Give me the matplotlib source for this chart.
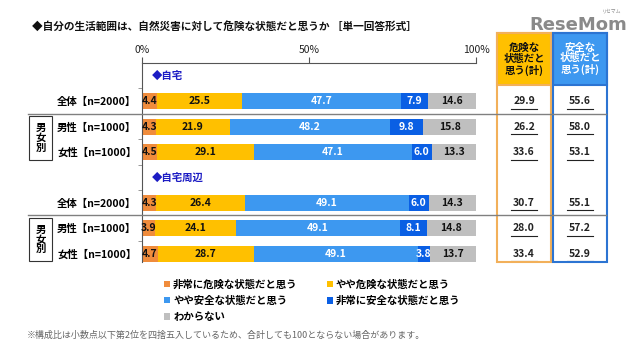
import matplotlib
matplotlib.use('Agg')
import matplotlib.pyplot as plt
from matplotlib.patches import Patch, Rectangle
from matplotlib.lines import Line2D
import matplotlib.transforms as mtransforms

plt.rcParams['font.family'] = ['Noto Sans CJK JP', 'DejaVu Sans']

# データ
categories = ['全体【n=2000】', '男性【n=1000】', '女性【n=1000】',
              '全体【n=2000】', '男性【n=1000】', '女性【n=1000】']
very_danger = [4.4, 4.3, 4.5, 4.3, 3.9, 4.7]
some_danger = [25.5, 21.9, 29.1, 26.4, 24.1, 28.7]
some_safe = [47.7, 48.2, 47.1, 49.1, 49.1, 49.1]
very_safe = [7.9, 9.8, 6.0, 6.0, 8.1, 3.8]
unknown = [14.6, 15.8, 13.3, 14.3, 14.8, 13.7]
danger_total = [29.9, 26.2, 33.6, 30.7, 28.0, 33.4]
safe_total = [55.6, 58.0, 53.1, 55.1, 57.2, 52.9]
series_names = ['非常に危険な状態だと思う', 'やや危険な状態だと思う',
                'やや安全な状態だと思う', '非常に安全な状態だと思う', 'わからない']
group_names = ['◆自宅', '◆自宅周辺']

colors = ['#F08C3C', '#FFC000', '#3D98F0', '#0A5FE4', '#BFBFBF']
text_colors = ['#111111', '#111111', 'white', 'white', '#111111']

W, H = 640, 356
fig = plt.figure(figsize=(W / 100, H / 100), dpi=100)

# 帯グラフ用の軸（ピクセル位置から配置）
x0, x1, y0, y1 = 142, 476, 63, 262
ax = fig.add_axes([x0 / W, 1 - y1 / H, (x1 - x0) / W, (y1 - y0) / H])

rows = [1.5, 2.5, 3.5, 5.5, 6.5, 7.5]
group_rows = [0.5, 4.5]
series = [very_danger, some_danger, some_safe, very_safe, unknown]

left = [0.0] * len(rows)
for vals, c, tc in zip(series, colors, text_colors):
    ax.barh(rows, vals, left=left, height=0.63, color=c, edgecolor='none')
    for r, l, v in zip(rows, left, vals):
        ax.text(l + v / 2, r, f'{v:.1f}', ha='center', va='center',
                fontsize=7.5, color=tc, fontweight='bold')
    left = [l + v for l, v in zip(left, vals)]

for g, r in zip(group_names, group_rows):
    ax.text(3, r, g, ha='left', va='center', fontsize=7.5,
            color='#1C1CC4', fontweight='bold')

ax.set_xlim(0, 100)
ax.set_ylim(7.83, 0)
ax.xaxis.tick_top()
ax.set_xticks([0, 50, 100])
ax.set_xticklabels(['0%', '50%', '100%'])
ax.tick_params(axis='x', direction='out', length=4, pad=2, labelsize=7.5,
               color='#555555', labelcolor='#222222')
ax.set_yticks(rows)
ax.set_yticklabels(categories, fontsize=7.5, fontweight='bold')
ax.tick_params(axis='y', length=0, pad=4)
ax.set_yticks([1, 2, 3, 4, 5, 6, 7], minor=True)
ax.tick_params(axis='y', which='minor', length=3, color='#888888')
for s in ['right', 'bottom']:
    ax.spines[s].set_visible(False)
ax.spines['top'].set_color('#555555')
ax.spines['left'].set_color('#555555')
ax.spines['top'].set_linewidth(0.8)
ax.spines['left'].set_linewidth(0.8)

blend = mtransforms.blended_transform_factory(fig.transFigure, ax.transData)

# 区切り線
for ys in [2.0, 6.0]:
    fig.add_artist(Line2D([28 / W, 606 / W], [ys, ys], transform=blend,
                          color='#808080', lw=1.0, zorder=5))

# 男女別の枠
for top, bottom in [(2.1, 3.8), (6.1, 7.8)]:
    fig.add_artist(Rectangle((29 / W, bottom), 23 / W, top - bottom,
                             transform=blend, fill=False, ec='#333333', lw=0.8))
    fig.text(40.5 / W, (top + bottom) / 2, '男\n女\n別', transform=blend,
             ha='center', va='center', fontsize=7.5, fontweight='bold',
             linespacing=0.95)

# 右側の集計列
col_specs = [(497, 551, '#FFC000', '#F2B05A', '#111111', '危険な\n状態だと\n思う(計)', danger_total),
             (553, 607, '#3D98F0', '#2C74D2', 'white', '安全な\n状態だと\n思う(計)', safe_total)]
for cx0, cx1, fill, edge, tcol, head, vals in col_specs:
    fig.add_artist(Rectangle((cx0 / W, 1 - 262 / H), (cx1 - cx0) / W, (262 - 33) / H,
                             transform=fig.transFigure, fill=False, ec=edge, lw=1.5, zorder=4))
    fig.add_artist(Rectangle((cx0 / W, 1 - 85 / H), (cx1 - cx0) / W, (85 - 33) / H,
                             transform=fig.transFigure, fc=fill, ec=edge, lw=1.5, zorder=3))
    cxm = (cx0 + cx1) / 2 / W
    fig.text(cxm, 1 - 59 / H, head, ha='center', va='center', fontsize=7.5,
             fontweight='bold', color=tcol, linespacing=1.1, zorder=6)
    for r, v in zip(rows, vals):
        fig.text(cxm, r, f'{v:.1f}', transform=blend, ha='center', va='center',
                 fontsize=7.5, fontweight='bold', color='#222222')
        fig.add_artist(Line2D([cxm - 13 / W, cxm + 13 / W], [r + 0.3, r + 0.3],
                              transform=blend, color='#222222', lw=0.8))

# タイトル
fig.text(32 / W, 1 - 26 / H, '◆自分の生活範囲は、自然災害に対して危険な状態だと思うか ［単一回答形式］',
         ha='left', va='center', fontsize=7.7, fontweight='bold', color='#111111')

# ロゴ
fig.text(578 / W, 1 - 25 / H, 'ReseMom', ha='center', va='center', fontsize=13,
         fontweight='bold', color='#8A8A8A', family=['DejaVu Sans'])
fig.text(612 / W, 1 - 11 / H, 'リセマム', ha='center', va='center', fontsize=3.5,
         color='#8A8A8A')

# 凡例
handles = [Patch(facecolor=c, edgecolor='none') for c in colors]
order = [0, 2, 4, 1, 3]
fig.legend([handles[i] for i in order], [series_names[i] for i in order],
           ncol=2, loc='upper left', bbox_to_anchor=(155 / W, 1 - 270 / H),
           frameon=False, handlelength=0.55, handleheight=0.55,
           handletextpad=0.3, columnspacing=2.8, labelspacing=0.6,
           prop={'weight': 'bold', 'size': 7.5})

# 注記
fig.text(27 / W, 1 - 335 / H,
         '※構成比は小数点以下第2位を四捨五入しているため、合計しても100とならない場合があります。',
         ha='left', va='center', fontsize=6.5, color='#666666')

fig.savefig('out.png', dpi=100, facecolor='white')
